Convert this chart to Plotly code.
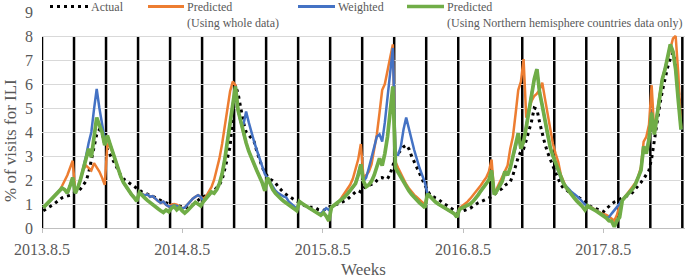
import plotly.graph_objects as go

# ---------------- data (weekly, 240 weeks starting 2013.8.5) ----------------
weeks = list(range(240))

actual = [
    0.72, 0.80, 0.87, 0.93, 1.00, 1.08, 1.17, 1.26, 1.30, 1.32, 1.36, 1.42,
    1.48, 1.55, 1.64, 1.80, 1.95, 2.30, 2.85, 3.40, 3.90, 4.10, 3.95, 3.50,
    3.25, 3.05, 2.85, 2.62, 2.40, 2.20, 2.05, 1.97, 1.88, 1.80, 1.72, 1.65,
    1.57, 1.50, 1.46, 1.42, 1.38, 1.33, 1.27, 1.20, 1.15, 1.08, 1.04, 1.00,
    0.97, 0.95, 0.92, 0.90, 0.87, 0.84, 0.85, 0.90, 0.97, 1.05, 1.15, 1.25,
    1.30, 1.35, 1.42, 1.50, 1.57, 1.68, 1.80, 2.00, 2.40, 2.90, 3.40, 4.60,
    5.95, 5.60, 5.00, 4.40, 4.00, 3.85, 3.75, 3.60, 3.20, 2.85, 2.55, 2.30,
    2.15, 2.03, 1.97, 1.88, 1.72, 1.58, 1.48, 1.40, 1.32, 1.25, 1.18, 1.12,
    1.07, 1.00, 0.93, 0.88, 0.86, 0.86, 0.84, 0.77, 0.73, 0.72, 0.82, 0.88,
    0.92, 0.95, 0.98, 1.03, 1.08, 1.13, 1.20, 1.30, 1.42, 1.50, 1.56, 1.50,
    1.65, 1.76, 1.78, 1.80, 1.85, 1.98, 2.08, 2.10, 2.05, 2.05, 2.25, 2.60,
    2.95, 3.10, 3.25, 3.38, 3.45, 3.30, 3.00, 2.75, 2.50, 2.25, 2.05, 1.80,
    1.55, 1.38, 1.30, 1.25, 1.20, 1.10, 1.02, 0.96, 0.88, 0.80, 0.74, 0.68,
    0.68, 0.70, 0.74, 0.78, 0.82, 0.90, 0.98, 1.05, 1.10, 1.15, 1.20, 1.27,
    1.30, 1.40, 1.48, 1.56, 1.65, 1.78, 1.85, 1.92, 2.20, 2.60, 2.95, 3.20,
    3.30, 3.65, 4.00, 4.45, 5.00, 4.95, 4.40, 3.90, 3.50, 3.15, 2.85, 2.55,
    2.30, 2.05, 1.80, 1.65, 1.60, 1.50, 1.45, 1.38, 1.32, 1.25, 1.20, 1.12,
    1.00, 0.90, 0.85, 0.80, 0.75, 0.70, 0.68, 0.80, 0.92, 1.00, 1.08, 1.12,
    1.20, 1.25, 1.30, 1.35, 1.40, 1.50, 1.62, 1.78, 1.90, 2.05, 2.20, 2.40,
    2.90, 3.70, 4.40, 5.10, 5.70, 6.20, 6.70, 7.05, 7.30, 6.90, 5.80, 4.20,
]

predicted_whole = [
    0.85, 0.97, 1.07, 1.18, 1.30, 1.42, 1.55, 1.75, 1.95, 2.20, 2.50, 2.80,
    1.45, 1.70, 2.05, 2.45, 2.60, 2.50, 2.40, 2.70, 2.55, 2.35, 2.10, 1.80,
    3.47, 3.40, 3.15, 2.80, 2.45, 2.15, 1.90, 1.72, 1.55, 1.40, 1.27, 1.12,
    1.48, 1.42, 1.36, 1.40, 1.30, 1.33, 1.22, 1.12, 1.05, 1.10, 0.97, 0.90,
    0.97, 1.00, 0.97, 0.88, 0.82, 0.85, 0.98, 1.10, 1.22, 1.30, 1.37, 1.30,
    1.20, 1.32, 1.50, 1.70, 2.00, 2.40, 2.90, 3.50, 4.20, 5.00, 5.70, 6.10,
    5.95, 4.90, 4.40, 3.95, 3.55, 3.20, 2.90, 2.65, 2.40, 2.15, 1.90, 1.55,
    2.10, 1.85, 1.60, 1.45, 1.32, 1.22, 1.12, 1.05, 0.97, 0.88, 0.80, 0.72,
    1.10, 1.02, 0.95, 0.88, 0.80, 0.74, 0.68, 0.61, 0.53, 0.63, 0.50, 0.30,
    0.86, 0.95, 1.03, 1.12, 1.30, 1.45, 1.60, 1.80, 2.05, 2.40, 2.85, 3.50,
    2.10, 2.20, 2.35, 2.65, 3.20, 3.90, 4.80, 5.75, 6.00, 6.50, 7.10, 7.65,
    2.75, 2.50, 2.25, 2.00, 1.82, 1.66, 1.50, 1.38, 1.28, 1.17, 1.07, 0.97,
    1.42, 1.30, 1.18, 1.08, 1.00, 0.93, 0.87, 0.81, 0.75, 0.68, 0.60, 0.45,
    0.82, 0.92, 1.00, 1.10, 1.22, 1.35, 1.50, 1.63, 1.78, 1.95, 2.10, 2.35,
    2.85, 1.42, 1.65, 1.85, 2.10, 2.30, 2.60, 3.30, 3.80, 4.75, 5.75, 6.10,
    7.04, 4.60, 5.00, 5.30, 5.50, 5.60, 5.75, 6.05, 5.40, 4.80, 4.10, 3.50,
    3.10, 2.75, 2.20, 1.90, 1.68, 1.52, 1.38, 1.25, 1.12, 1.02, 0.90, 0.75,
    0.90, 0.88, 0.82, 0.75, 0.68, 0.62, 0.58, 0.55, 0.48, 0.40, 0.30, 0.55,
    0.95, 1.15, 1.30, 1.42, 1.55, 1.70, 1.90, 2.15, 2.55, 3.60, 3.80, 4.30,
    5.95, 3.95, 4.80, 5.55, 6.20, 6.60, 7.05, 7.50, 7.90, 8.00, 6.40, 4.20,
]

weighted = [
    0.85, 0.97, 1.07, 1.18, 1.30, 1.42, 1.55, 1.66, 1.60, 1.45, 1.75, 2.10,
    1.45, 1.70, 2.05, 2.50, 3.00, 3.55, 4.00, 4.95, 5.80, 5.00, 4.35, 3.70,
    3.85, 3.50, 3.15, 2.80, 2.45, 2.15, 1.90, 1.72, 1.55, 1.40, 1.27, 1.12,
    1.48, 1.42, 1.36, 1.40, 1.30, 1.33, 1.22, 1.12, 1.05, 1.10, 0.97, 0.90,
    0.90, 0.95, 0.92, 0.88, 0.82, 0.85, 0.98, 1.10, 1.22, 1.30, 1.37, 1.30,
    1.10, 1.22, 1.35, 1.50, 1.45, 1.60, 1.85, 2.25, 2.85, 3.60, 4.40, 5.20,
    5.90, 4.90, 4.40, 4.30, 4.85, 4.40, 3.95, 3.60, 3.25, 2.90, 2.60, 2.25,
    2.10, 1.90, 1.70, 1.55, 1.45, 1.38, 1.32, 1.28, 1.10, 1.00, 0.90, 0.80,
    1.10, 1.02, 0.95, 0.88, 0.80, 0.74, 0.68, 0.61, 0.60, 0.72, 0.83, 0.75,
    0.86, 0.95, 1.03, 1.10, 1.20, 1.30, 1.42, 1.55, 1.68, 1.85, 2.20, 2.65,
    1.95, 2.10, 2.50, 2.90, 3.30, 3.80, 3.90, 3.60, 4.40, 5.40, 6.40, 7.50,
    3.05, 3.05, 3.40, 4.10, 4.60, 4.10, 3.70, 3.25, 2.85, 2.50, 2.20, 1.90,
    1.42, 1.30, 1.18, 1.08, 1.00, 0.93, 0.87, 0.81, 0.75, 0.68, 0.60, 0.45,
    0.78, 0.84, 0.88, 0.94, 1.00, 1.10, 1.22, 1.38, 1.55, 1.70, 1.85, 2.00,
    2.40, 1.39, 1.55, 1.72, 1.95, 2.35, 2.20, 2.50, 2.95, 3.35, 3.95, 3.30,
    3.60, 4.20, 4.90, 5.60, 6.20, 6.62, 5.65, 5.10, 4.45, 3.85, 3.35, 3.00,
    2.70, 2.35, 2.05, 1.85, 1.75, 1.62, 1.50, 1.42, 1.32, 1.22, 1.10, 0.98,
    0.93, 0.85, 0.80, 0.75, 0.68, 0.60, 0.52, 0.42, 0.45, 0.60, 0.75, 0.90,
    1.00, 1.15, 1.28, 1.40, 1.52, 1.65, 1.85, 2.10, 2.40, 3.40, 3.10, 3.70,
    4.80, 3.90, 4.60, 5.45, 6.20, 6.60, 7.10, 7.65, 7.35, 6.60, 5.30, 4.10,
]

predicted_north = [
    0.85, 0.97, 1.07, 1.18, 1.30, 1.42, 1.55, 1.66, 1.60, 1.45, 1.75, 2.10,
    1.45, 1.70, 2.05, 2.50, 3.00, 3.30, 2.95, 3.75, 4.60, 4.30, 4.00, 3.45,
    3.85, 3.50, 3.15, 2.80, 2.45, 2.15, 1.90, 1.72, 1.55, 1.40, 1.27, 1.12,
    1.48, 1.35, 1.25, 1.15, 1.05, 0.97, 0.88, 0.80, 0.72, 0.65, 0.75, 0.68,
    0.82, 0.90, 0.76, 0.86, 0.72, 0.62, 0.72, 0.85, 0.97, 1.07, 1.00, 0.92,
    1.10, 1.22, 1.35, 1.50, 1.45, 1.60, 1.85, 2.25, 2.85, 3.60, 4.40, 5.20,
    5.90, 4.90, 4.40, 3.95, 3.55, 3.20, 2.90, 2.65, 2.40, 2.15, 1.90, 1.55,
    2.10, 1.85, 1.60, 1.45, 1.32, 1.22, 1.12, 1.05, 0.97, 0.88, 0.80, 0.72,
    1.10, 1.02, 0.95, 0.88, 0.80, 0.74, 0.68, 0.61, 0.53, 0.63, 0.50, 0.30,
    0.86, 0.95, 1.03, 1.10, 1.20, 1.30, 1.42, 1.55, 1.68, 1.85, 2.20, 2.65,
    1.95, 1.72, 1.80, 1.95, 2.20, 2.60, 2.90, 2.60, 3.10, 3.80, 4.70, 5.90,
    2.50, 2.30, 2.08, 1.88, 1.70, 1.55, 1.40, 1.27, 1.15, 1.05, 0.95, 0.85,
    1.42, 1.30, 1.18, 1.08, 1.00, 0.93, 0.87, 0.81, 0.75, 0.68, 0.60, 0.45,
    0.78, 0.84, 0.88, 0.94, 1.00, 1.10, 1.22, 1.38, 1.55, 1.70, 1.85, 2.00,
    2.40, 1.39, 1.55, 1.72, 1.95, 2.35, 2.20, 2.50, 2.95, 3.35, 3.95, 3.30,
    3.60, 4.20, 4.90, 5.60, 6.20, 6.62, 5.65, 5.10, 4.45, 3.85, 3.35, 3.00,
    2.70, 2.35, 2.05, 1.85, 1.68, 1.52, 1.38, 1.25, 1.12, 1.02, 0.90, 0.75,
    0.93, 0.85, 0.80, 0.72, 0.65, 0.58, 0.50, 0.42, 0.30, 0.28, 0.05, 0.30,
    0.45, 1.15, 1.28, 1.40, 1.52, 1.65, 1.85, 2.10, 2.40, 3.40, 3.10, 3.70,
    4.80, 3.90, 4.60, 5.45, 6.20, 6.60, 7.10, 7.65, 7.35, 6.60, 5.30, 4.10,
]

tick_positions = [0, 52.6, 105.2, 157.8, 210.4]
tick_labels = ["2013.8.5", "2014.8.5", "2015.8.5", "2016.8.5", "2017.8.5"]
segment_weeks = 12  # model re-training interval marked by the black lines

# ---------------- figure ----------------
FONT = "Liberation Serif"
GREY = "#595959"
C_ACT, C_ORG, C_BLU, C_GRN = "#000000", "#ED7D31", "#4472C4", "#70AD47"

x = [w + 0.5 for w in weeks]

fig = go.Figure()
fig.add_trace(go.Scatter(x=x, y=actual, mode="lines", name="Actual",
                         line=dict(color=C_ACT, width=3, dash="3px,4px")))
fig.add_trace(go.Scatter(x=x, y=predicted_whole, mode="lines",
                         name="Predicted (Using whole data)",
                         line=dict(color=C_ORG, width=2.5)))
fig.add_trace(go.Scatter(x=x, y=weighted, mode="lines", name="Weighted",
                         line=dict(color=C_BLU, width=2.5)))
fig.add_trace(go.Scatter(x=x, y=predicted_north, mode="lines",
                         name="Predicted (Using Northern hemisphere countries data only)",
                         line=dict(color=C_GRN, width=3.7)))

n_seg = len(weeks) // segment_weeks
for k in range(n_seg + 1):
    fig.add_shape(type="line", xref="x", yref="y",
                  x0=k * segment_weeks, x1=k * segment_weeks, y0=-0.06, y1=8,
                  line=dict(color="black", width=2.5), layer="below")

# ---- legend (drawn manually to mimic the original layout) ----
L, T, W, H = 42, 12, 643, 216
def px(xp):
    return (xp - L) / W
def py(yp):
    return (T + H - yp) / H

legend_items = [
    (50, 88, C_ACT, 3, "3px,4px", "Actual"),
    (148, 184, C_ORG, 3, None, "Predicted<br>(Using whole data)"),
    (298, 335, C_BLU, 3, None, "Weighted"),
    (407, 444, C_GRN, 3.5, None, "Predicted<br>(Using Northern hemisphere countries data only)"),
]
for x0, x1, col, wd, dash, label in legend_items:
    ln = dict(color=col, width=wd)
    if dash:
        ln["dash"] = dash
    fig.add_shape(type="line", xref="paper", yref="paper",
                  x0=px(x0), x1=px(x1), y0=py(6.5), y1=py(6.5), line=ln)
    fig.add_annotation(x=px(x1 + 2), y=py(-1.5), xref="paper", yref="paper",
                       text=label, showarrow=False, xanchor="left", yanchor="top",
                       align="left", font=dict(family=FONT, size=12, color=GREY),
                       borderpad=0)

fig.add_annotation(x=px(10), y=py(141), xref="paper", yref="paper",
                   text="% of visits for ILI", textangle=-90, showarrow=False,
                   xanchor="center", yanchor="middle",
                   font=dict(family=FONT, size=17, color=GREY))
fig.add_annotation(x=px(363), y=py(269), xref="paper", yref="paper",
                   text="Weeks", showarrow=False,
                   xanchor="center", yanchor="middle",
                   font=dict(family=FONT, size=17, color=GREY))

fig.update_layout(
    width=685, height=278,
    margin=dict(l=L, r=685 - L - W, t=T, b=278 - T - H),
    paper_bgcolor="white", plot_bgcolor="white",
    showlegend=False,
    font=dict(family=FONT, color=GREY),
)
fig.update_xaxes(range=[0, 241], tickmode="array", tickvals=tick_positions,
                 ticktext=tick_labels, ticks="outside", ticklen=4,
                 tickcolor="#bfbfbf", showline=True, linecolor="#bfbfbf",
                 showgrid=False, zeroline=False, ticklabelstandoff=3,
                 tickfont=dict(family=FONT, size=16, color=GREY))
fig.update_yaxes(range=[0, 9], dtick=1, tick0=0, showgrid=True,
                 gridcolor="#d9d9d9", gridwidth=1, showline=False,
                 zeroline=False, ticks="", ticklabelstandoff=8,
                 tickfont=dict(family=FONT, size=16, color=GREY))

fig.write_html("out.html",
               config={"displayModeBar": False},
               post_script="document.body.style.margin='0';"
                           "document.body.style.overflow='hidden';")
